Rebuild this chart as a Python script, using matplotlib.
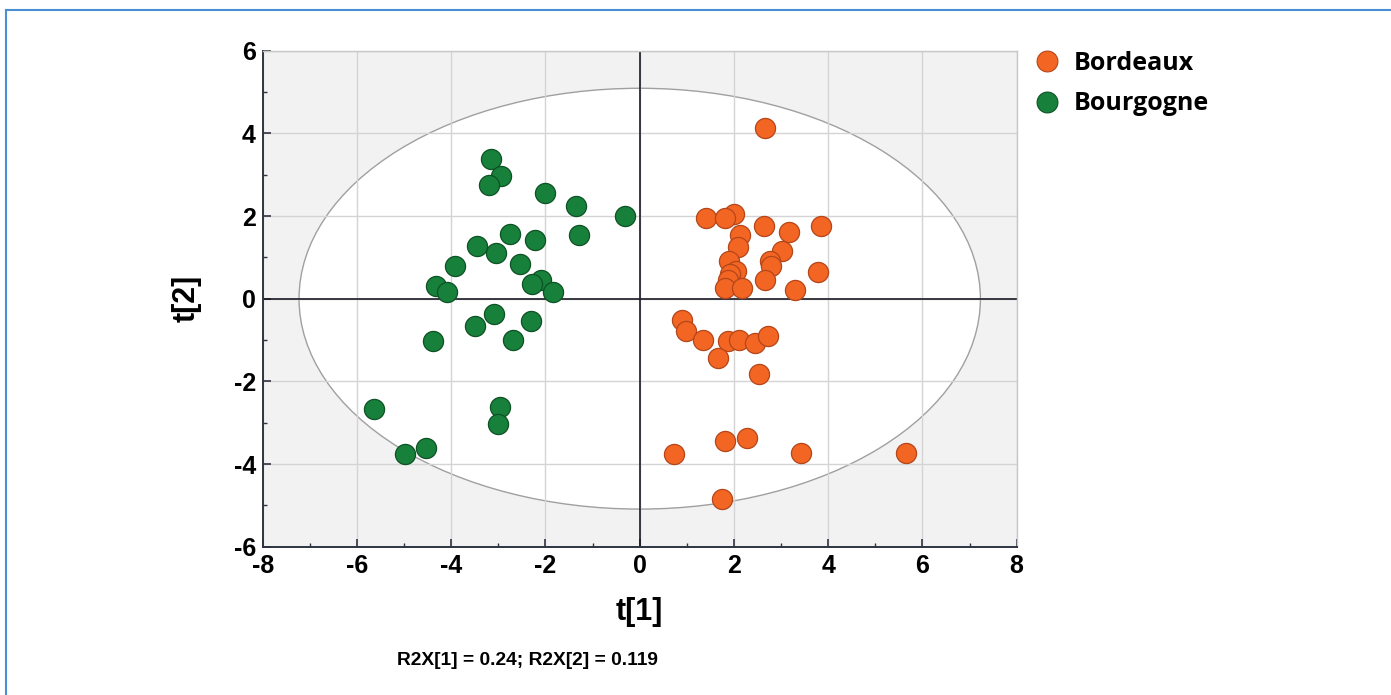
import matplotlib.pyplot as plt
from matplotlib.patches import Ellipse
from matplotlib.lines import Line2D
from matplotlib.ticker import MultipleLocator

plt.rcParams['font.family'] = ['Liberation Sans', 'DejaVu Sans']
plt.rcParams['font.weight'] = 'bold'
plt.rcParams['axes.unicode_minus'] = False

# scores
bordeaux_t1 = [2.66, 1.41, 2.01, 1.81, 2.63, 3.16, 3.85, 2.12, 2.09, 3.03,
               1.90, 2.77, 2.79, 2.04, 1.92, 1.88, 3.79, 2.66, 1.81, 2.17,
               3.30, 0.89, 0.99, 1.35, 1.87, 2.11, 2.44, 2.73, 1.66, 2.54,
               1.82, 2.27, 0.72, 3.43, 5.66, 1.75]
bordeaux_t2 = [4.12, 1.96, 2.06, 1.94, 1.75, 1.62, 1.75, 1.55, 1.25, 1.16,
               0.91, 0.91, 0.79, 0.67, 0.59, 0.46, 0.65, 0.45, 0.25, 0.25,
               0.21, -0.52, -0.78, -1.01, -1.02, -1.00, -1.08, -0.91, -1.43, -1.82,
               -3.45, -3.38, -3.75, -3.73, -3.73, -4.84]

bourgogne_t1 = [-3.16, -2.95, -3.20, -2.01, -1.36, -0.32, -1.28, -2.76, -2.22, -3.46,
                -3.05, -2.55, -3.92, -2.09, -2.28, -1.85, -4.32, -4.09, -3.09, -3.49,
                -2.30, -2.68, -4.38, -5.63, -2.97, -3.00, -4.53, -4.99]
bourgogne_t2 = [3.39, 2.97, 2.76, 2.55, 2.25, 2.00, 1.55, 1.56, 1.42, 1.27,
                1.11, 0.83, 0.79, 0.46, 0.35, 0.16, 0.30, 0.15, -0.36, -0.67,
                -0.54, -0.99, -1.02, -2.68, -2.61, -3.04, -3.62, -3.76]

# Hotelling T2 ellipse semi-axes
ell_a = 7.23
ell_b = 5.09

r2x_1 = 0.24
r2x_2 = 0.119

orange = '#F26522'
orange_edge = '#B5461A'
green = '#17803A'
green_edge = '#0D5224'

fig = plt.figure(figsize=(13.91, 6.95), dpi=100)
ax = fig.add_axes([0.1889, 0.2134, 0.542, 0.7137])
ax.set_facecolor('#F2F2F2')

ax.add_patch(Ellipse((0, 0), 2 * ell_a, 2 * ell_b, facecolor='white',
                     edgecolor='#A0A0A0', lw=1.0, zorder=0.2))
ax.set_axisbelow(True)
ax.grid(True, which='major', color='#D4D4D4', lw=1.0)

ax.axhline(0, color='#1a1a24', lw=1.2, zorder=2)
ax.axvline(0, color='#1a1a24', lw=1.2, zorder=2)

ax.scatter(bordeaux_t1, bordeaux_t2, s=210, c=orange, edgecolors=orange_edge,
           linewidths=0.9, zorder=3, label='Bordeaux')
ax.scatter(bourgogne_t1, bourgogne_t2, s=210, c=green, edgecolors=green_edge,
           linewidths=0.9, zorder=3, label='Bourgogne')

ax.set_xlim(-8, 8)
ax.set_ylim(-6, 6)
ax.xaxis.set_major_locator(MultipleLocator(2))
ax.yaxis.set_major_locator(MultipleLocator(2))
ax.xaxis.set_minor_locator(MultipleLocator(1))
ax.yaxis.set_minor_locator(MultipleLocator(1))
ax.tick_params(which='major', direction='in', length=6, width=1.2, color='#2E3440',
               labelsize=18, pad=5)
ax.tick_params(which='minor', direction='in', length=3, width=1.0, color='#2E3440')

for side in ['left', 'bottom']:
    ax.spines[side].set_color('#2E3440')
    ax.spines[side].set_linewidth(1.4)
for side in ['top', 'right']:
    ax.spines[side].set_color('#C8C8C8')
    ax.spines[side].set_linewidth(1.0)

ax.set_xlabel('t[1]', fontsize=22, fontweight='bold', labelpad=14)
ax.set_ylabel('t[2]', fontsize=22, fontweight='bold', labelpad=23)

fig.text(0.379, 0.05, 'R2X[1] = {}; R2X[2] = {}'.format(r2x_1, r2x_2),
         ha='center', va='center', fontsize=13.8, fontweight='bold')

handles = [Line2D([], [], marker='o', ls='', markersize=15, markerfacecolor=orange,
                  markeredgecolor=orange_edge, markeredgewidth=0.8),
           Line2D([], [], marker='o', ls='', markersize=15, markerfacecolor=green,
                  markeredgecolor=green_edge, markeredgewidth=0.8)]
ax.legend(handles, ['Bordeaux', 'Bourgogne'], loc='upper left',
          bbox_to_anchor=(0.99, 1.045), frameon=False, handlelength=1.2,
          handletextpad=0.5, labelspacing=0.62,
          prop={'family': 'Open Sans', 'weight': 'bold', 'size': 18})

# thin blue frame on the left and top of the figure
fig.add_artist(Line2D([6.5 / 1391, 6.5 / 1391], [0, 1 - 10 / 695], color='#4A8FD6',
                      lw=1.5, transform=fig.transFigure))
fig.add_artist(Line2D([6.5 / 1391, 1], [1 - 10 / 695, 1 - 10 / 695], color='#4A8FD6',
                      lw=1.5, transform=fig.transFigure))

plt.savefig('out.png', dpi=100)
plt.close()
